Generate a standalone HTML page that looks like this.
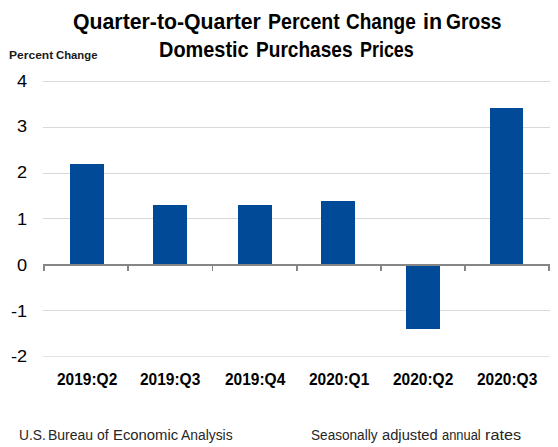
<!DOCTYPE html>
<html><head><meta charset="utf-8">
<style>
html,body{margin:0;padding:0;background:#fff;}
body{width:558px;height:447px;position:relative;overflow:hidden;font-family:"Liberation Sans",sans-serif;color:#000;}
.t{position:absolute;white-space:nowrap;line-height:1;transform-origin:0 0;}
.grid{position:absolute;left:43px;width:507px;height:1px;background:#d9d9d9;}
.bar{position:absolute;background:#004a98;}
.tick{position:absolute;height:6px;top:265px;background:#868686;}
.axis{position:absolute;left:43px;top:264px;width:507px;height:2px;background:#868686;}
.yl{font-size:16.5px;transform:scaleX(1.1);}
</style></head><body>
<div class="t" style="left:73.01px;top:11.8px;font-size:21.5px;font-weight:bold;color:#000;transform:scaleX(0.989)">Quarter-to-Quarter</div>
<div class="t" style="left:268.09px;top:11.8px;font-size:21.5px;font-weight:bold;color:#000;transform:scaleX(0.910)">Percent</div>
<div class="t" style="left:346.12px;top:11.8px;font-size:21.5px;font-weight:bold;color:#000;transform:scaleX(0.885)">Change</div>
<div class="t" style="left:423.00px;top:11.8px;font-size:21.5px;font-weight:bold;color:#000;transform:scaleX(1.000)">in</div>
<div class="t" style="left:445.61px;top:11.8px;font-size:21.5px;font-weight:bold;color:#000;transform:scaleX(0.893)">Gross</div>
<div class="t" style="left:159.07px;top:39.5px;font-size:21.5px;font-weight:bold;color:#000;transform:scaleX(0.926)">Domestic</div>
<div class="t" style="left:256.11px;top:39.5px;font-size:21.5px;font-weight:bold;color:#000;transform:scaleX(0.888)">Purchases</div>
<div class="t" style="left:360.17px;top:39.5px;font-size:21.5px;font-weight:bold;color:#000;transform:scaleX(0.833)">Prices</div>
<div class="t" style="left:9.00px;top:50px;font-size:11.5px;font-weight:bold;color:#1a1a1a;transform:scaleX(1.048)">Percent</div>
<div class="t" style="left:56.00px;top:50px;font-size:11.5px;font-weight:bold;color:#1a1a1a;transform:scaleX(0.983)">Change</div>
<div class="grid" style="top:81px;background:#d9d9d9"></div><div class="grid" style="top:127px;background:#d9d9d9"></div><div class="grid" style="top:173px;background:#d9d9d9"></div><div class="grid" style="top:218px;background:#d9d9d9"></div><div class="grid" style="top:310px;background:#d9d9d9"></div><div class="grid" style="top:356px;background:#e2e2e2"></div>
<div class="bar" style="left:70px;top:164px;height:100px;width:34px"></div><div class="bar" style="left:153px;top:205px;height:59px;width:34px"></div><div class="bar" style="left:238px;top:205px;height:59px;width:34px"></div><div class="bar" style="left:321px;top:201px;height:63px;width:34px"></div><div class="bar" style="left:406px;top:266px;height:63px;width:34px"></div><div class="bar" style="left:490px;top:108px;height:156px;width:33px"></div>
<div class="axis"></div>
<div class="tick" style="left:43px;width:2px"></div><div class="tick" style="left:127px;width:2px"></div><div class="tick" style="left:212px;width:1px"></div><div class="tick" style="left:296px;width:2px"></div><div class="tick" style="left:380px;width:2px"></div><div class="tick" style="left:464px;width:2px"></div><div class="tick" style="left:548px;width:2px"></div>
<div class="t yl" style="left:16.5px;top:72.5px">4</div>
<div class="t yl" style="left:16.5px;top:117.5px">3</div>
<div class="t yl" style="left:16.5px;top:163.5px">2</div>
<div class="t yl" style="left:16.5px;top:210.5px">1</div>
<div class="t yl" style="left:16.5px;top:256.5px">0</div>
<div class="t yl" style="left:10.5px;top:302.5px">-1</div>
<div class="t yl" style="left:10.5px;top:347.5px">-2</div>
<div class="t" style="left:57.00px;top:371.6px;font-size:16px;font-weight:bold;color:#000;transform:scaleX(0.968)">2019:Q2</div>
<div class="t" style="left:140.00px;top:371.6px;font-size:16px;font-weight:bold;color:#000;transform:scaleX(0.968)">2019:Q3</div>
<div class="t" style="left:225.00px;top:371.6px;font-size:16px;font-weight:bold;color:#000;transform:scaleX(0.968)">2019:Q4</div>
<div class="t" style="left:309.00px;top:371.6px;font-size:16px;font-weight:bold;color:#000;transform:scaleX(0.968)">2020:Q1</div>
<div class="t" style="left:393.00px;top:371.6px;font-size:16px;font-weight:bold;color:#000;transform:scaleX(0.968)">2020:Q2</div>
<div class="t" style="left:477.00px;top:371.6px;font-size:16px;font-weight:bold;color:#000;transform:scaleX(0.968)">2020:Q3</div>
<div class="t" style="left:19.02px;top:428px;font-size:14px;font-weight:normal;color:#262626;transform:scaleX(0.984)">U.S.</div>
<div class="t" style="left:48.00px;top:428px;font-size:14px;font-weight:normal;color:#262626;transform:scaleX(1.000)">Bureau</div>
<div class="t" style="left:97.40px;top:428px;font-size:14px;font-weight:normal;color:#262626;transform:scaleX(0.992)">of</div>
<div class="t" style="left:112.94px;top:428px;font-size:14px;font-weight:normal;color:#262626;transform:scaleX(1.060)">Economic</div>
<div class="t" style="left:180.50px;top:428px;font-size:14px;font-weight:normal;color:#262626;transform:scaleX(0.990)">Analysis</div>
<div class="t" style="left:311.03px;top:428px;font-size:14px;font-weight:normal;color:#262626;transform:scaleX(0.971)">Seasonally</div>
<div class="t" style="left:382.30px;top:428px;font-size:14px;font-weight:normal;color:#262626;transform:scaleX(1.051)">adjusted</div>
<div class="t" style="left:442.30px;top:428px;font-size:14px;font-weight:normal;color:#262626;transform:scaleX(0.921)">annual</div>
<div class="t" style="left:484.54px;top:428px;font-size:14px;font-weight:normal;color:#262626;transform:scaleX(1.160)">rates</div>
</body></html>
